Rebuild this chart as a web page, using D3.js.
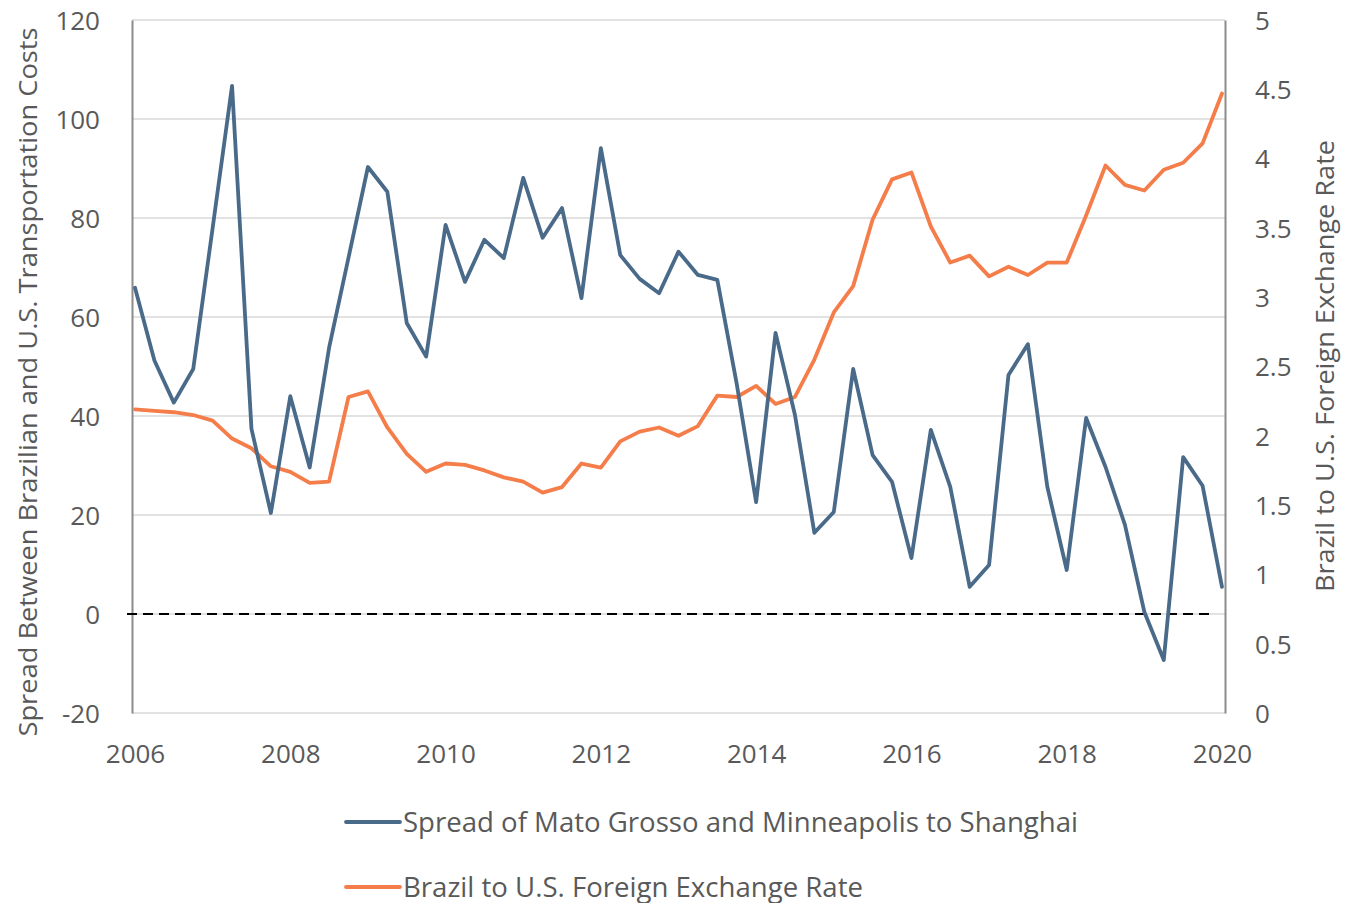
<!DOCTYPE html>
<html>
<head>
<meta charset="utf-8">
<script src="https://cdn.jsdelivr.net/npm/d3@7"></script>
<style>
  body { margin: 0; background: #fff; }
  text { font-family: "Open Sans", sans-serif; fill: #595959; }
</style>
</head>
<body>
<svg width="1358" height="903"></svg>
<script>
// quarterly, Q1 2006 .. Q1 2020
var spread = [65.9, 51.2, 42.7, 49.5, 78, 106.7, 37.4, 20.4, 44, 29.6,
  53.8, 72, 90.3, 85.3, 58.8, 52, 78.6, 67.1, 75.6, 71.9,
  88.1, 76, 82, 63.8, 94.1, 72.5, 67.7, 64.8, 73.2, 68.5,
  67.5, 46.5, 22.6, 56.8, 40.2, 16.4, 20.6, 49.5, 32.1, 26.7,
  11.3, 37.2, 25.7, 5.5, 9.9, 48.3, 54.5, 25.7, 8.9, 39.6,
  29.7, 18, 0.4, -9.3, 31.7, 25.9, 5.5];

var fx = [2.19, 2.18, 2.17, 2.15, 2.11, 1.98, 1.91, 1.78, 1.74, 1.66,
  1.67, 2.28, 2.32, 2.06, 1.87, 1.74, 1.80, 1.79, 1.75, 1.70,
  1.67, 1.59, 1.63, 1.80, 1.77, 1.96, 2.03, 2.06, 2.00, 2.07,
  2.29, 2.28, 2.36, 2.23, 2.28, 2.55, 2.89, 3.08, 3.56, 3.85,
  3.90, 3.51, 3.25, 3.30, 3.15, 3.22, 3.16, 3.25, 3.25, 3.59,
  3.95, 3.81, 3.77, 3.92, 3.97, 4.11, 4.47];

var quarters = d3.range(spread.length).map(function(i) { return 2006 + i / 4; });
var yearTicks = [2006, 2008, 2010, 2012, 2014, 2016, 2018, 2020];
var leftTicks = [-20, 0, 20, 40, 60, 80, 100, 120];
var rightTicks = [0, 0.5, 1, 1.5, 2, 2.5, 3, 3.5, 4, 4.5, 5];

var seriesNames = ["Spread of Mato Grosso and Minneapolis to Shanghai",
  "Brazil to U.S. Foreign Exchange Rate"];
var colors = ["#4a6a8a", "#f47d4a"];

var svg = d3.select("svg");
var plotLeft = 132, plotRight = 1225, plotTop = 20, plotBottom = 713;

var x = d3.scaleLinear().domain([2006, 2020]).range([135, 1222]);
var yL = d3.scaleLinear().domain([-20, 120]).range([plotBottom, plotTop]);
var yR = d3.scaleLinear().domain([0, 5]).range([plotBottom, plotTop]);

// plain hyphen for negatives, like the original
var plain = function(d) { return String(d); };

// gridlines
svg.append("g")
  .selectAll("line")
  .data(leftTicks)
  .enter().append("line")
  .attr("x1", plotLeft).attr("x2", plotRight)
  .attr("y1", function(d) { return yL(d); })
  .attr("y2", function(d) { return yL(d); })
  .attr("stroke", "#d9d9d9")
  .attr("stroke-width", 1.5);

// left axis
var axL = svg.append("g")
  .attr("transform", "translate(" + plotLeft + ",0)")
  .call(d3.axisLeft(yL).tickValues(leftTicks).tickSize(0).tickPadding(32).tickFormat(plain));
axL.select(".domain").attr("stroke", "#8c8c8c").attr("stroke-width", 2);
axL.selectAll("text").style("font-size", "26px").attr("dy", "0.36em");

// right axis
var axR = svg.append("g")
  .attr("transform", "translate(" + plotRight + ",0)")
  .call(d3.axisRight(yR).tickValues(rightTicks).tickSize(0).tickPadding(30).tickFormat(plain));
axR.select(".domain").attr("stroke", "#8c8c8c").attr("stroke-width", 2);
axR.selectAll("text").style("font-size", "26px").attr("dy", "0.36em");

// x axis
var axX = svg.append("g")
  .attr("transform", "translate(0," + plotBottom + ")")
  .call(d3.axisBottom(x).tickValues(yearTicks).tickSize(0).tickPadding(32).tickFormat(plain));
axX.select(".domain").remove();
axX.selectAll("text").style("font-size", "26px");

// zero line
svg.append("line")
  .attr("x1", 127).attr("x2", 1213)
  .attr("y1", yL(0)).attr("y2", yL(0))
  .attr("stroke", "#000")
  .attr("stroke-width", 2)
  .attr("stroke-dasharray", "10,6");

// lines
var lineL = d3.line()
  .x(function(d, i) { return x(quarters[i]); })
  .y(function(d) { return yL(d); });
var lineR = d3.line()
  .x(function(d, i) { return x(quarters[i]); })
  .y(function(d) { return yR(d); });

svg.append("path")
  .datum(fx)
  .attr("d", lineR)
  .attr("fill", "none")
  .attr("stroke", colors[1])
  .attr("stroke-width", 3.8)
  .attr("stroke-linejoin", "round")
  .attr("stroke-linecap", "round");

svg.append("path")
  .datum(spread)
  .attr("d", lineL)
  .attr("fill", "none")
  .attr("stroke", colors[0])
  .attr("stroke-width", 3.8)
  .attr("stroke-linejoin", "round")
  .attr("stroke-linecap", "round");

// axis titles
svg.append("text")
  .attr("transform", "translate(37,382) rotate(-90)")
  .attr("text-anchor", "middle")
  .attr("textLength", 709)
  .attr("lengthAdjust", "spacingAndGlyphs")
  .style("font-size", "26px")
  .text("Spread Between Brazilian and U.S. Transportation Costs");

svg.append("text")
  .attr("transform", "translate(1334,366) rotate(-90)")
  .attr("text-anchor", "middle")
  .attr("textLength", 452)
  .attr("lengthAdjust", "spacingAndGlyphs")
  .style("font-size", "26px")
  .text("Brazil to U.S. Foreign Exchange Rate");

// legend
var legend = svg.append("g")
  .selectAll("g")
  .data(seriesNames)
  .enter().append("g")
  .attr("transform", function(d, i) { return "translate(346," + (822 + i * 65) + ")"; });

legend.append("line")
  .attr("x1", 0).attr("x2", 54)
  .attr("stroke", function(d, i) { return colors[i]; })
  .attr("stroke-width", 3.8)
  .attr("stroke-linecap", "round");

legend.append("text")
  .attr("x", 57)
  .attr("y", 10)
  .attr("textLength", function(d, i) { return i === 0 ? 675 : 460; })
  .attr("lengthAdjust", "spacingAndGlyphs")
  .style("font-size", "27px")
  .text(function(d) { return d; });
</script>
</body>
</html>
